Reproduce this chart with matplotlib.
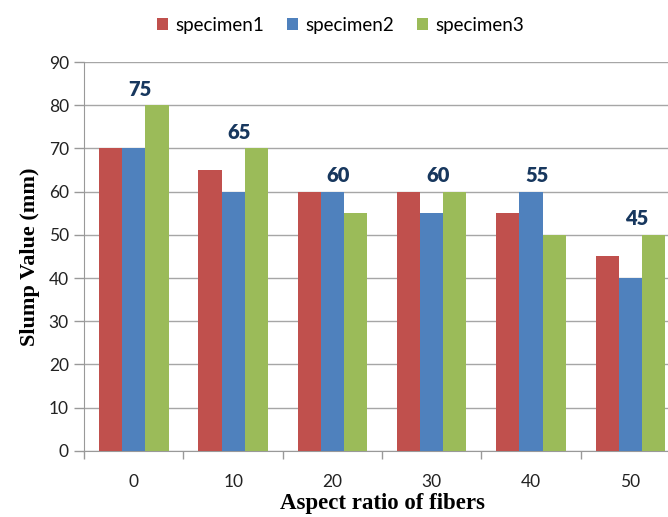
import numpy as np
import matplotlib
matplotlib.use("Agg")
import matplotlib.pyplot as plt

# ---- data ----
categories = ["0", "10", "20", "30", "40", "50"]
specimen1 = [70, 65, 60, 60, 55, 45]
specimen2 = [70, 60, 60, 55, 60, 40]
specimen3 = [80, 70, 55, 60, 50, 50]
mean_labels = ["75", "65", "60", "60", "55", "45"]

series = [("specimen1", specimen1, "#C0504D"),
          ("specimen2", specimen2, "#4F81BD"),
          ("specimen3", specimen3, "#9BBB59")]

fig = plt.figure(figsize=(6.68, 5.17), dpi=100)
ax = fig.add_axes([0.126, 0.128, 0.892, 0.752])

x = np.arange(len(categories))
w = 0.233
for i, (name, vals, col) in enumerate(series):
    ax.bar(x + (i - 1) * w, vals, width=w, color=col, label=name, zorder=3)

# bold labels above each group
for xi, lab, a, b, c in zip(x, mean_labels, specimen1, specimen2, specimen3):
    ax.text(xi + 0.06, max(a, b, c) + 1.5, lab, ha="center", va="bottom",
            fontsize=14.5, fontweight="heavy", color="#17375E", family="Lato")

ax.set_xlim(-0.5, len(categories) - 0.5)
ax.set_ylim(0, 90)
ax.set_yticks(range(0, 91, 10))
ax.set_xticks(x)
ax.set_xticklabels(categories)
ax.set_xticks(np.arange(-0.5, len(categories), 1), minor=True)
ax.tick_params(axis="x", which="major", length=0, pad=17)
ax.tick_params(axis="x", which="minor", length=6, color="#999999", width=1)
ax.tick_params(axis="y", length=7, color="#999999", width=1, pad=4)
for lbl in ax.get_xticklabels() + ax.get_yticklabels():
    lbl.set_family("Lato")
    lbl.set_fontsize(12.5)
    lbl.set_color("#222222")

ax.grid(True, axis="y", color="#A6A6A6", linewidth=1, zorder=0)
for s in ["top", "right"]:
    ax.spines[s].set_visible(False)
ax.spines["left"].set_color("#999999")
ax.spines["bottom"].set_color("#999999")

ax.set_xlabel("Aspect ratio of fibers", family="Liberation Serif",
              fontweight="bold", fontsize=16.5, labelpad=2)
ax.set_ylabel("Slump Value (mm)", family="Liberation Serif",
              fontweight="bold", fontsize=16, labelpad=6)

fig.legend(loc="upper center", bbox_to_anchor=(0.51, 1.0), ncol=3, frameon=False,
           prop={"family": "Lato", "size": 13.5}, handlelength=0.6, handleheight=0.6,
           handletextpad=0.4, columnspacing=1.2)

plt.savefig("out.png", dpi=100)
